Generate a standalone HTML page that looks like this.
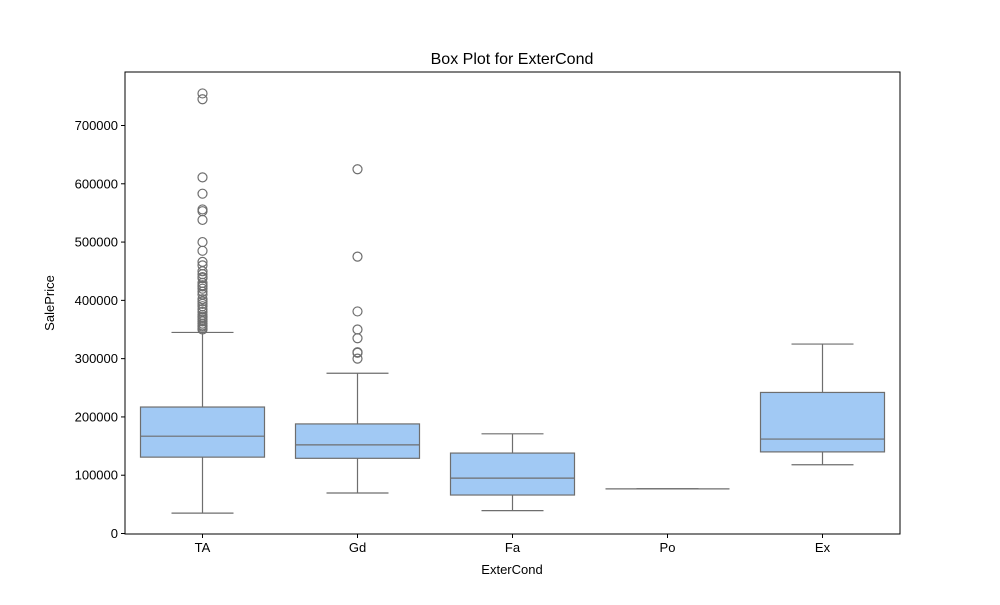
<!DOCTYPE html>
<html><head><meta charset="utf-8"><style>
body{margin:0;background:#fff;font-family:"Liberation Sans","DejaVu Sans",sans-serif}
svg text{font-family:"Liberation Sans","DejaVu Sans",sans-serif;fill:#000}
</style></head><body>
<svg id="chart" width="1000" height="600" xmlns="http://www.w3.org/2000/svg"></svg>
<script>
const categories=["TA","Gd","Fa","Po","Ex"];
const whiskerLow=[34900,69500,39300,76500,118000];
const q1=[131000,129000,66000,76500,140000];
const medians=[167000,152000,95000,76500,162000];
const q3=[217000,188000,138000,76500,242000];
const whiskerHigh=[345000,275000,171000,76500,325000];
const outliersTA=[755000,745000,611000,583000,556000,553000,538000,500000,485000,466000,460000,450000,445000,440000,438000,430000,426000,424000,420000,415000,410000,402000,398000,394000,390000,385000,380000,375000,372000,370000,367000,364000,360000,357000,355000,352000,350000];
const outliersGd=[625000,475000,381000,350000,335000,311000,310000,300000];
const outliers=[outliersTA,outliersGd,[],[],[]];
const yTicks=[0,100000,200000,300000,400000,500000,600000,700000];
const L=125,R=900,T=72,B=534;
const y=v=>533.5-v*(408/700000);
const x=i=>L+(R-L)/categories.length*(i+0.5);
const bw=(R-L)/categories.length*0.8;
const svg=document.getElementById('chart');
const NS='http://www.w3.org/2000/svg';
function mk(tag,attrs,parent){const e=document.createElementNS(NS,tag);for(const k in attrs)e.setAttribute(k,attrs[k]);(parent||svg).appendChild(e);return e;}
const c='#6e6e6e';
categories.forEach((cat,i)=>{
  const g=mk('g',{});
  
  
  const cx=x(i);
  mk('line',{x1:cx,x2:cx,y1:y(whiskerLow[i]),y2:y(q1[i]),stroke:c,'stroke-width':1.2},g);
  mk('line',{x1:cx,x2:cx,y1:y(q3[i]),y2:y(whiskerHigh[i]),stroke:c,'stroke-width':1.2},g);
  mk('line',{x1:cx-bw/4,x2:cx+bw/4,y1:y(whiskerLow[i]),y2:y(whiskerLow[i]),stroke:c,'stroke-width':1.2},g);
  mk('line',{x1:cx-bw/4,x2:cx+bw/4,y1:y(whiskerHigh[i]),y2:y(whiskerHigh[i]),stroke:c,'stroke-width':1.2},g);
  mk('rect',{x:cx-bw/2,y:y(q3[i]),width:bw,height:Math.max(0,y(q1[i])-y(q3[i])),fill:'#a1c9f4',stroke:c,'stroke-width':1.2},g);
  mk('line',{x1:cx-bw/2,x2:cx+bw/2,y1:y(medians[i]),y2:y(medians[i]),stroke:c,'stroke-width':1.2},g);
  outliers[i].forEach(v=>{
    const o=mk('circle',{cx:cx,cy:y(v),r:4.5,fill:'none',stroke:c,'stroke-width':1.2},g);
    
    
  });
  const t=mk('text',{x:cx,y:552,'text-anchor':'middle','font-size':13});
  t.textContent=cat;
  
  
  mk('line',{x1:cx,x2:cx,y1:B,y2:B+4,stroke:'#000'});
});
yTicks.forEach(v=>{
  mk('line',{x1:L-4,x2:L,y1:y(v),y2:y(v),stroke:'#000'});
  const t=mk('text',{x:L-7,y:y(v)+4.5,'text-anchor':'end','font-size':13});
  t.textContent=v;
  
  
});
const fr=mk('rect',{x:L,y:T,width:R-L,height:B-T,fill:'none',stroke:'#000','stroke-width':1});


let t=mk('text',{x:512,y:64,'text-anchor':'middle','font-size':16});t.textContent='Box Plot for ExterCond';


t=mk('text',{x:512,y:574,'text-anchor':'middle','font-size':13});t.textContent='ExterCond';


t=mk('text',{x:54,y:303,'text-anchor':'middle','font-size':13,transform:'rotate(-90 54 303)'});t.textContent='SalePrice';


</script>
</body></html>
